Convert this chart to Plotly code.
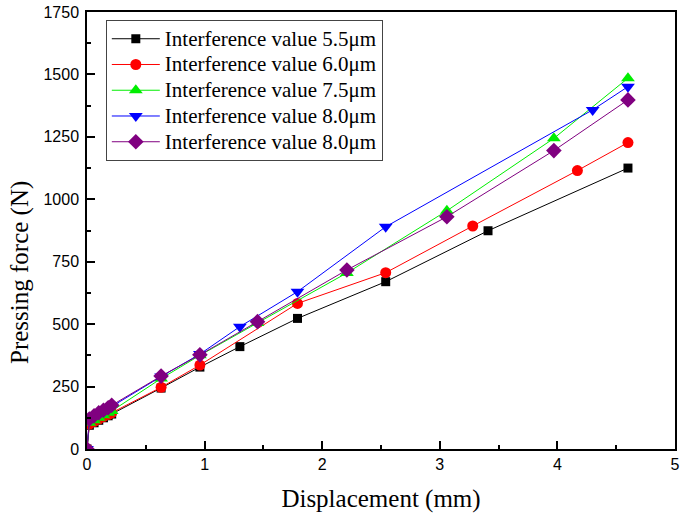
import plotly.graph_objects as go

# Data (displacement mm, force N)
x_55 = [0, 0.02, 0.06, 0.10, 0.14, 0.18, 0.21, 0.63, 0.96, 1.30, 1.79, 2.54, 3.41, 4.60]
y_55 = [0, 95, 105, 115, 125, 133, 140, 244, 328, 410, 523, 670, 874, 1125]

x_60 = [0, 0.02, 0.06, 0.10, 0.14, 0.18, 0.21, 0.63, 0.96, 1.79, 2.54, 3.28, 4.17, 4.60]
y_60 = [0, 100, 110, 120, 130, 138, 145, 247, 336, 583, 706, 893, 1115, 1227]

x_75 = [0, 0.02, 0.06, 0.10, 0.14, 0.18, 0.21, 0.63, 0.96, 1.45, 2.21, 3.06, 3.97, 4.60]
y_75 = [0, 105, 115, 125, 135, 145, 152, 282, 375, 505, 705, 954, 1244, 1485]

x_80a = [0, 0.02, 0.06, 0.10, 0.14, 0.18, 0.21, 0.63, 0.96, 1.30, 1.79, 2.54, 4.30, 4.60]
y_80a = [0, 115, 128, 140, 150, 160, 170, 290, 380, 490, 630, 890, 1358, 1451]

x_80b = [0, 0.02, 0.06, 0.10, 0.14, 0.18, 0.21, 0.63, 0.96, 1.45, 2.21, 3.06, 3.97, 4.60]
y_80b = [0, 120, 133, 145, 155, 165, 175, 292, 377, 510, 717, 930, 1195, 1398]

names = ["Interference value 5.5μm", "Interference value 6.0μm",
         "Interference value 7.5μm", "Interference value 8.0μm",
         "Interference value 8.0μm"]
colors = ["#000000", "#FF0000", "#00EE00", "#0000FF", "#800080"]
symbols = ["square", "circle", "triangle-up", "triangle-down", "diamond"]
sizes = [9, 11, 12, 12, 12]

series = [(x_55, y_55), (x_60, y_60), (x_75, y_75), (x_80a, y_80a), (x_80b, y_80b)]

fig = go.Figure()
for (xs, ys), n, c, s, sz in zip(series, names, colors, symbols, sizes):
    fig.add_trace(go.Scatter(
        x=xs, y=ys, name='<span style="font-size:21px">' + n + '</span>',
        mode="lines+markers",
        line=dict(color=c, width=1),
        marker=dict(color=c, symbol=s, size=sz, line=dict(width=0)),
    ))

axis_common = dict(
    showline=True, linecolor="black", linewidth=1.5, mirror=True,
    ticks="inside", ticklen=8, tickwidth=1.5, tickcolor="black",
    showgrid=False, zeroline=False, automargin=False,
    tickfont=dict(family="Liberation Sans, Arial", size=16, color="black"),
)

title_font = dict(family="Liberation Serif, Times New Roman", size=25, color="black")

fig.update_xaxes(
    range=[0, 5], tickvals=[0, 1, 2, 3, 4, 5],
    minor=dict(ticks="inside", ticklen=4, tickwidth=1.5, tickcolor="black", dtick=0.5),
    title=dict(text="Displacement (mm)", font=title_font, standoff=18),
    **axis_common,
)
fig.update_yaxes(
    range=[0, 1750], tickvals=[0, 250, 500, 750, 1000, 1250, 1500, 1750],
    minor=dict(ticks="inside", ticklen=4, tickwidth=1.5, tickcolor="black", dtick=125),
    ticklabelstandoff=3,
    **axis_common,
)

# y-axis title placed as in the reference (slightly below the axis centre)
fig.add_annotation(
    text="Pressing force (N)", textangle=-90, font=title_font,
    xref="paper", yref="paper", x=-0.114, y=0.405,
    xanchor="center", yanchor="middle", showarrow=False,
)

fig.update_layout(
    width=685, height=519,
    margin=dict(l=87, r=10, t=12, b=70),
    plot_bgcolor="white", paper_bgcolor="white",
    showlegend=True,
    legend=dict(
        x=0.032, y=0.982, xanchor="left", yanchor="top",
        bordercolor="#444444", borderwidth=1, bgcolor="white",
        font=dict(family="Liberation Serif, Times New Roman", size=17.5, color="black"),
        tracegroupgap=0, itemwidth=48,
    ),
)

fig.write_html(
    "out.html",
    config={"displayModeBar": False},
    post_script="document.body.style.margin='0';document.body.style.overflow='hidden';",
)
